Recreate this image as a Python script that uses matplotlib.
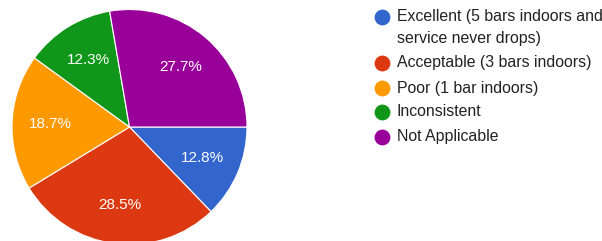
import matplotlib
matplotlib.use("Agg")
import matplotlib.pyplot as plt

categories = ["Excellent (5 bars indoors and\nservice never drops)",
              "Acceptable (3 bars indoors)",
              "Poor (1 bar indoors)",
              "Inconsistent",
              "Not Applicable"]
values = [12.8, 28.5, 18.7, 12.3, 27.7]
colors = ["#3366cc", "#dc3912", "#ff9900", "#109618", "#990099"]

plt.rcParams['font.family'] = ['Liberation Sans', 'DejaVu Sans']

W, H = 602, 241
fig = plt.figure(figsize=(W / 100, H / 100), dpi=100)
ax = fig.add_axes([0, 0, 1, 1])

cx, cy, r = 129.5, H - 127, 117.5
wedges, texts, autotexts = ax.pie(values, colors=colors, startangle=0, counterclock=False,
       center=(cx, cy), radius=r, autopct='%1.1f%%', pctdistance=0.67,
       wedgeprops=dict(edgecolor='white', linewidth=0.8),
       textprops=dict(color='white', fontsize=11), frame=True)
ax.set_xlim(0, W)
ax.set_ylim(0, H)
ax.axis('off')

# legend
ys = [17, 63, 88, 112, 137]
for lab, col, y in zip(categories, colors, ys):
    ax.scatter([382], [H - y], s=130, color=col, zorder=3, clip_on=False, linewidths=0)
    if '\n' in lab:
        ax.text(397, H - y + 8, lab, fontsize=11.4, color='#222222', va='top',
                linespacing=1.55)
    else:
        ax.text(397, H - y, lab, fontsize=11.4, color='#222222', va='center')

fig.savefig("out.png", dpi=100)
